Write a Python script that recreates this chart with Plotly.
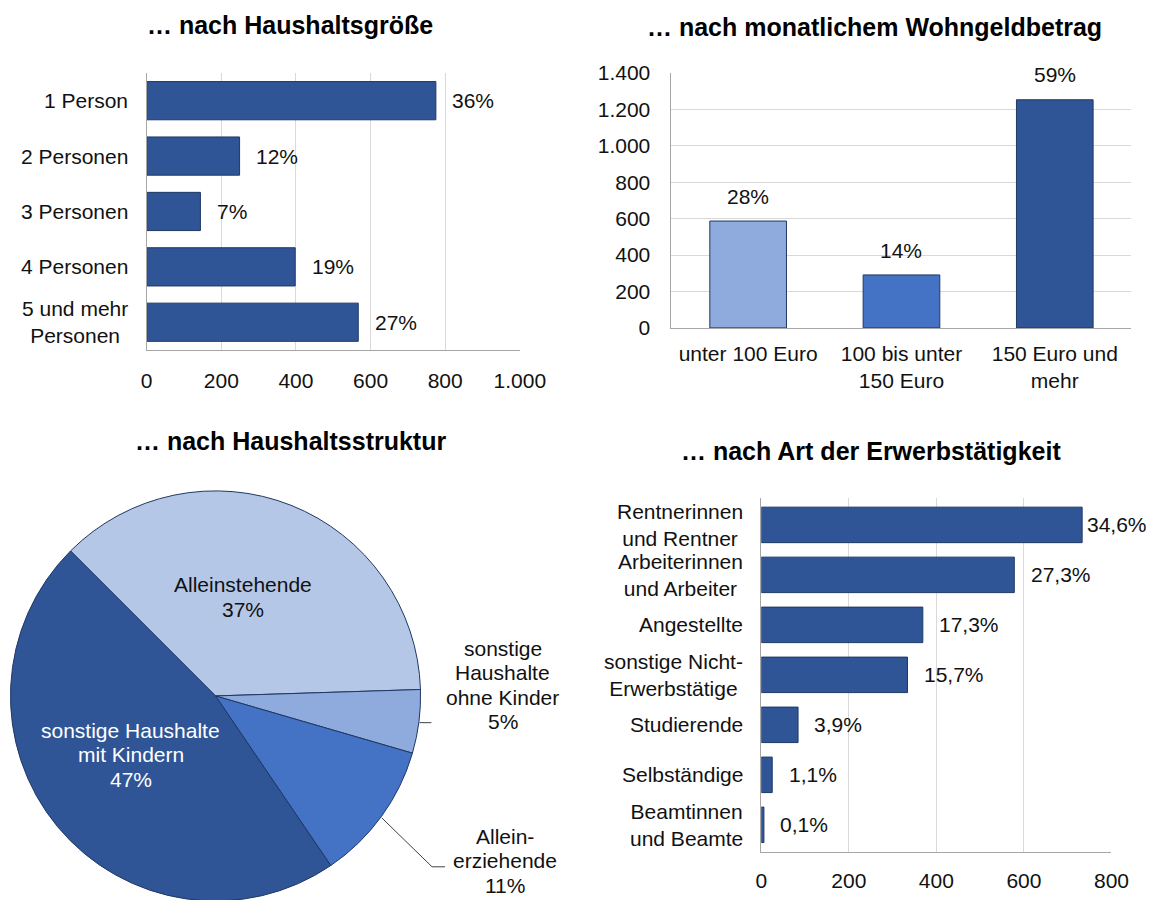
import math
import plotly.graph_objects as go

# target picture size and the measured capture transform (screen = S * page + offset)
W, H = 1152, 900
S, OX, OY = 0.975, 5.0, 11.0
FW = round((W - OX) / S)   # figure size in page pixels
FH = round((H - OY) / S)

# ---------- data ----------
size_cats = ["1 Person", "2 Personen", "3 Personen", "4 Personen", "5 und mehr<br>Personen"]
size_vals = [775, 249, 144, 398, 567]
size_pct = [36, 12, 7, 19, 27]

amt_cats = ["unter 100 Euro", "100 bis unter<br>150 Euro", "150 Euro und<br>mehr"]
amt_vals = [587, 291, 1253]
amt_pct = [28, 14, 59]

struct_labels = ["Alleinstehende", "sonstige Haushalte ohne Kinder",
                 "Alleinerziehende", "sonstige Haushalte mit Kindern"]
struct_pct = [37, 5, 11, 47]

erw_cats = ["Rentnerinnen<br>und Rentner", "Arbeiterinnen<br>und Arbeiter", "Angestellte",
            "sonstige Nicht-<br>Erwerbstätige", "Studierende", "Selbständige",
            "Beamtinnen<br>und Beamte"]
erw_vals = [733, 578, 369, 334, 84, 25, 6]
erw_pct = [34.6, 27.3, 17.3, 15.7, 3.9, 1.1, 0.1]

titles = ["… nach Haushaltsgröße", "… nach monatlichem Wohngeldbetrag",
          "… nach Haushaltsstruktur", "… nach Art der Erwerbstätigkeit"]

# ---------- style ----------
FONT = "Liberation Sans, Arial, sans-serif"
DARK = "#2F5597"
MID = "#4472C4"
LIGHT = "#8FAADC"
PALE = "#B4C7E7"
EDGE = "#1F3864"
GRID = "#D9D9D9"
AXIS = "#A6A6A6"
TXT = "#111111"
FS = 21
TFS = 25
LINE_H = 24.5  # line spacing of the pie labels (screen px)


def px(x):
    return ((x - OX) / S) / FW


def py(y):
    return 1 - ((y - OY) / S) / FH


def d(v):
    return v / S


def di(v):
    return int(round(v / S))


fig = go.Figure()

fig.add_trace(go.Bar(x=size_vals, y=size_cats, orientation="h", xaxis="x", yaxis="y",
                     width=0.69, marker=dict(color=DARK, line=dict(color=EDGE, width=1)),
                     hoverinfo="skip", showlegend=False))

fig.add_trace(go.Bar(x=amt_cats, y=amt_vals, xaxis="x2", yaxis="y2", width=0.5,
                     marker=dict(color=[LIGHT, MID, DARK], line=dict(color=EDGE, width=1)),
                     hoverinfo="skip", showlegend=False))

PIE_CX, PIE_CY, PIE_R = 215, 696, 206
fig.add_trace(go.Pie(labels=struct_labels, values=struct_pct, sort=False,
                     direction="clockwise", rotation=-45, textinfo="none",
                     marker=dict(colors=[PALE, LIGHT, MID, DARK], line=dict(color=EDGE, width=1)),
                     domain=dict(x=[px(PIE_CX - PIE_R), px(PIE_CX + PIE_R)],
                                 y=[max(0, py(PIE_CY + PIE_R)), py(PIE_CY - PIE_R)]),
                     hoverinfo="skip", showlegend=False))

fig.add_trace(go.Bar(x=erw_vals, y=erw_cats, orientation="h", xaxis="x3", yaxis="y3",
                     width=0.71, marker=dict(color=DARK, line=dict(color=EDGE, width=1)),
                     hoverinfo="skip", showlegend=False))

tick_font = dict(family=FONT, size=FS, color=TXT)
common = dict(tickfont=tick_font, zeroline=False, ticks="", showline=True, linecolor=AXIS,
              linewidth=1, gridcolor=GRID, gridwidth=1, fixedrange=True)

fig.update_layout(
    width=FW, height=FH, margin=dict(l=0, r=0, t=0, b=0),
    paper_bgcolor="white", plot_bgcolor="white", separators=",.",
    font=dict(family=FONT, size=FS, color=TXT),
    xaxis=dict(domain=[px(146), px(520)], range=[0, 1000], tick0=0, dtick=200, tickformat=",d",
               showgrid=True, anchor="y", ticklabelstandoff=di(12), **common),
    yaxis=dict(domain=[py(349), py(72)], autorange="reversed", showgrid=False, anchor="x",
               showticklabels=False, **common),
    xaxis2=dict(domain=[px(672), px(1133)], showgrid=False, anchor="y2",
                ticklabelstandoff=di(7), **common),
    yaxis2=dict(domain=[py(327), py(72)], range=[0, 1400], tick0=0, dtick=200, tickformat=",d",
                showgrid=True, anchor="x2", ticklabelstandoff=di(16), **common),
    xaxis3=dict(domain=[px(762), px(1113)], range=[0, 800], tick0=0, dtick=200, tickformat=",d",
                showgrid=True, anchor="y3", ticklabelstandoff=di(10), **common),
    yaxis3=dict(domain=[py(851), py(497)], autorange="reversed", showgrid=False, anchor="x3",
                showticklabels=False, **common),
)

ann = []
lab_font = dict(family=FONT, size=FS, color=TXT)

title_pos = [(290, 24), (875, 26), (290, 440), (872, 450)]
for t, (tx, ty) in zip(titles, title_pos):
    ann.append(dict(text="<b>" + t + "</b>", x=px(tx), y=py(ty), xref="paper", yref="paper",
                    xanchor="center", yanchor="middle", showarrow=False,
                    font=dict(family=FONT, size=TFS, color="#000000")))

for c in size_cats:
    ann.append(dict(text=c, x=0, y=c, xref="x", yref="y", xanchor="right", yanchor="middle",
                    align="center", xshift=-d(16), showarrow=False, font=lab_font))
for c in erw_cats:
    ann.append(dict(text=c, x=0, y=c, xref="x3", yref="y3", xanchor="right", yanchor="middle",
                    align="center", xshift=-d(16), showarrow=False, font=lab_font))

for c, v, p in zip(size_cats, size_vals, size_pct):
    ann.append(dict(text=f"{p}%", x=v, y=c, xref="x", yref="y", xanchor="left", yanchor="middle",
                    xshift=d(14), showarrow=False, font=lab_font))

for c, v, p in zip(amt_cats, amt_vals, amt_pct):
    ann.append(dict(text=f"{p}%", x=c, y=v, xref="x2", yref="y2", xanchor="center",
                    yanchor="bottom", yshift=d(11), showarrow=False, font=lab_font))

vmax = max(erw_vals)
for c, v, p in zip(erw_cats, erw_vals, erw_pct):
    ann.append(dict(text=f"{p:.1f}".replace(".", ",") + "%", x=v, y=c, xref="x3", yref="y3",
                    xanchor="left", yanchor="middle", xshift=d(3) if v == vmax else d(14),
                    showarrow=False, font=lab_font))

# pie labels, one annotation per line for a tighter line spacing
pie_names = ["Alleinstehende", "sonstige<br>Haushalte<br>ohne Kinder",
             "Allein-<br>erziehende", "sonstige Haushalte<br>mit Kindern"]
pie_pos = [(243, 596, TXT), (503, 684, TXT), (505, 860, TXT), (130, 754, "#FFFFFF")]
for name, p, (tx, ty, col) in zip(pie_names, struct_pct, pie_pos):
    lines = name.split("<br>") + [f"{p}%"]
    n = len(lines)
    for i, ln in enumerate(lines):
        yy = ty + (i - (n - 1) / 2) * LINE_H
        ann.append(dict(text=ln, x=px(tx), y=py(yy), xref="paper", yref="paper",
                        xanchor="center", yanchor="middle", showarrow=False,
                        font=dict(family=FONT, size=FS, color=col)))

fig.update_layout(annotations=ann)

# leader lines for the two small slices (from slice mid-angle on the rim)
total = sum(struct_pct)
angles = []
a = 90 + 45  # math angle where the first slice starts (rotation=-45)
for v in struct_pct:
    span = 360 * v / total
    angles.append(a - span / 2)
    a -= span


def rim(angle_deg):
    t = math.radians(angle_deg)
    return PIE_CX + PIE_R * math.cos(t), PIE_CY - PIE_R * math.sin(t)


def seg(xa, ya, xb, yb):
    return dict(type="line", xref="paper", yref="paper", x0=px(xa), y0=py(ya),
                x1=px(xb), y1=py(yb), line=dict(color="#404040", width=1))


shapes = []
x0, y0 = rim(angles[1])
shapes.append(seg(x0, y0, x0 + 12, y0))
x0, y0 = rim(angles[2])
shapes.append(seg(x0, y0, 432, 866))
shapes.append(seg(432, 866, 445, 866))
fig.update_layout(shapes=shapes)

fig.write_html("out.html", config={"displayModeBar": False},
               post_script="document.body.style.margin='0';")
